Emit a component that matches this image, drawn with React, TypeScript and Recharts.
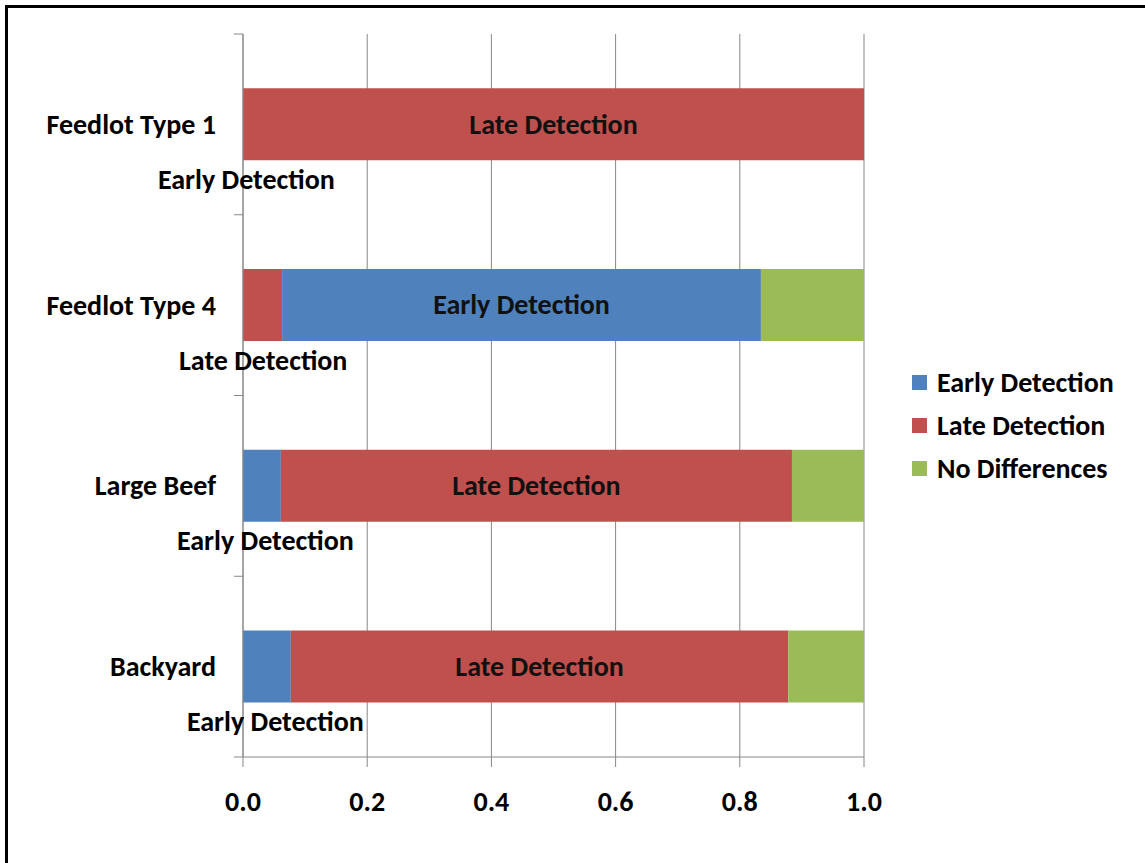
import { BarChart, Bar, XAxis, YAxis, CartesianGrid, Legend, LabelList, Cell } from "recharts";

const categories = ["Feedlot Type 1", "Feedlot Type 4", "Large Beef", "Backyard"];
const outcomeLabels = ["Early Detection", "Late Detection", "Early Detection", "Early Detection"];
const seriesNames = ["Early Detection", "Late Detection", "No Differences"];

const earlyDetection = [0, 0.771, 0.061, 0.077];
const lateDetection = [1.0, 0.063, 0.823, 0.801];
const noDifferences = [0, 0.166, 0.116, 0.122];

// which series sits in each stack slot, per row (indexes into seriesNames)
const stackOrder = [
  [0, 1, 2],
  [1, 0, 2],
  [0, 1, 2],
  [0, 1, 2],
];

const xTicks = [0, 0.2, 0.4, 0.6, 0.8, 1.0];

const COLORS = ["#4F81BD", "#C0504D", "#9BBB59"];
const GRID = "#878787";
const FONT = "Calibri, Carlito, Lato, sans-serif";
const FONT_SIZE = 28;

const W = 1145;
const H = 863;
const MARGIN = { top: 34, right: 281, bottom: 46, left: 0 };
const Y_AXIS_W = 243;
const X_AXIS_H = 60;

// horizontal offset of the second tick line, relative to the axis
const outcomeIndent = [-85, -64, -66, -56];

const seriesValues = [earlyDetection, lateDetection, noDifferences];

const rows = categories.map((name, i) => {
  const row: Record<string, string | number> = { name, outcome: outcomeLabels[i] };
  stackOrder[i].forEach((s, k) => {
    row[`seg${k}`] = seriesValues[s][i];
    row[`series${k}`] = s;
  });
  return row;
});

const plotHeight = H - MARGIN.top - MARGIN.bottom - X_AXIS_H;

function CategoryTick(props: any) {
  const { x, y, payload, index } = props;
  const half = payload?.offset || plotHeight / categories.length / 2;
  const i = categories.indexOf(payload.value);
  return (
    <g>
      <line x1={x - 9} x2={x} y1={y - half} y2={y - half} stroke={GRID} />
      {index === categories.length - 1 && (
        <line x1={x - 9} x2={x} y1={y + half} y2={y + half} stroke={GRID} />
      )}
      <text
        x={x - 27}
        y={y}
        textAnchor="end"
        dominantBaseline="central"
        fontFamily={FONT}
        fontWeight="bold"
        fontSize={FONT_SIZE}
        fill="#000"
      >
        {payload.value}
      </text>
      <text
        x={x + outcomeIndent[i]}
        y={y + 55}
        textAnchor="start"
        dominantBaseline="central"
        fontFamily={FONT}
        fontWeight="bold"
        fontSize={FONT_SIZE}
        fill="#000"
      >
        {outcomeLabels[i]}
      </text>
    </g>
  );
}

// label only the widest segment of each bar with its series name
const segmentLabel = (k: number) => (props: any) => {
  const box = props.viewBox ?? props;
  const row = rows.find((r) => r.name === props.value);
  if (!row || !box) return null;
  const vals = [0, 1, 2].map((j) => row[`seg${j}`] as number);
  if ((row[`seg${k}`] as number) !== Math.max(...vals)) return null;
  return (
    <text
      x={box.x + box.width / 2}
      y={box.y + box.height / 2}
      textAnchor="middle"
      dominantBaseline="central"
      fontFamily={FONT}
      fontWeight="bold"
      fontSize={FONT_SIZE}
      fill="#111"
    >
      {seriesNames[row[`series${k}`] as number]}
    </text>
  );
};

function LegendBox() {
  return (
    <div style={{ fontFamily: FONT, fontWeight: "bold", fontSize: FONT_SIZE }}>
      {seriesNames.map((n, i) => (
        <div key={n} style={{ display: "flex", alignItems: "center", height: 43 }}>
          <span
            style={{ width: 15, height: 15, background: COLORS[i], marginRight: 10, display: "inline-block" }}
          />
          <span style={{ color: "#000", whiteSpace: "nowrap" }}>{n}</span>
        </div>
      ))}
    </div>
  );
}

export default function App() {
  return (
    <div style={{ position: "absolute", left: 0, top: 0, width: W, height: H, background: "#fff" }}>
      <div
        style={{
          position: "absolute",
          left: 5,
          top: 5,
          width: W - 5,
          height: H - 5,
          boxSizing: "border-box",
          borderLeft: "3px solid #000",
          borderTop: "3px solid #000",
        }}
      />
      <div style={{ position: "absolute", left: 0, top: 0 }}>
        <BarChart
          width={W}
          height={H}
          data={rows}
          layout="vertical"
          margin={MARGIN}
          barCategoryGap="30%"
        >
          <CartesianGrid horizontal={false} stroke={GRID} />
          <XAxis
            type="number"
            domain={[0, 1]}
            ticks={xTicks}
            height={X_AXIS_H}
            tickSize={10}
            tickMargin={24}
            stroke={GRID}
            tickFormatter={(v: number) => v.toFixed(1)}
            tick={{ fill: "#000", fontFamily: FONT, fontWeight: "bold", fontSize: FONT_SIZE }}
          />
          <YAxis
            type="category"
            dataKey="name"
            width={Y_AXIS_W}
            tickSize={0}
            tickMargin={0}
            tickLine={false}
            stroke={GRID}
            tick={<CategoryTick />}
            interval={0}
          />
          <Legend
            layout="vertical"
            align="center"
            verticalAlign="middle"
            content={<LegendBox />}
            wrapperStyle={{ left: 912, top: 361, width: 230 }}
          />
          {[0, 1, 2].map((k) => (
            <Bar key={k} dataKey={`seg${k}`} stackId="a" isAnimationActive={false}>
              {rows.map((r, i) => (
                <Cell key={i} fill={COLORS[r[`series${k}`] as number]} />
              ))}
              <LabelList dataKey="name" content={segmentLabel(k)} />
            </Bar>
          ))}
        </BarChart>
      </div>
    </div>
  );
}
